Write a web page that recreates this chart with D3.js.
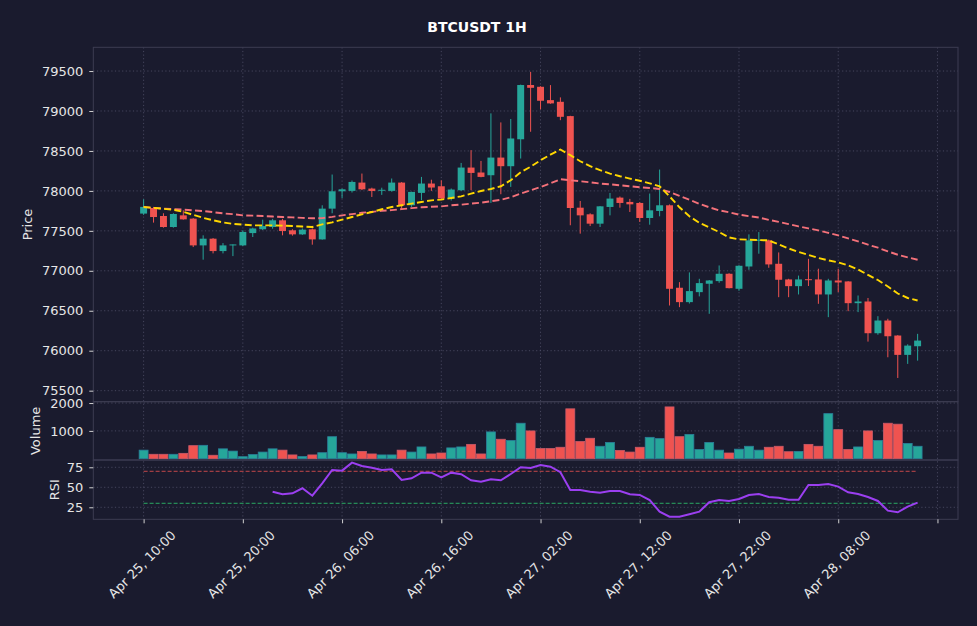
<!DOCTYPE html>
<html>
<head>
<meta charset="utf-8">
<script src="https://cdn.jsdelivr.net/npm/d3@7"></script>
<style>
  body { margin: 0; background: #1a1b2e; }
  svg text { font-family: "DejaVu Sans", sans-serif; fill: #e6e6e6; }
</style>
</head>
<body>
<svg width="977" height="626"></svg>
<script>
// hourly candles, Apr 25 10:00 -> Apr 28 16:00
const tickIdx = [0, 10, 20, 30, 40, 50, 60, 70, 80];
const tickLabels = ['Apr 25, 10:00', 'Apr 25, 20:00', 'Apr 26, 06:00', 'Apr 26, 16:00',
    'Apr 27, 02:00', 'Apr 27, 12:00', 'Apr 27, 22:00', 'Apr 28, 08:00', ''];

const open = [77716, 77786, 77686, 77548, 77694, 77653, 77318, 77402, 77247, 77318,
    77318, 77472, 77520, 77548, 77632, 77507, 77456, 77519, 77393, 77778,
    77995, 78000, 78104, 78029, 78008, 78000, 78104, 77820, 77975, 78092,
    78058, 77904, 78008, 78292, 78230, 78196, 78417, 78309, 78646, 79325,
    79303, 79136, 79115, 78936, 77790, 77707, 77590, 77799, 77916, 77862,
    77849, 77661, 77749, 77820, 76788, 76608, 76733, 76838, 76871, 76963,
    76775, 77054, 77375, 77381, 77088, 76892, 76808, 76895, 76892, 76704,
    76879, 76867, 76595, 76616, 76219, 76378, 76190, 75948, 76056];
const high = [77895, 77800, 77720, 77720, 77757, 77660, 77444, 77410, 77347, 77330,
    77507, 77540, 77640, 77650, 77650, 77520, 77530, 77530, 77820, 78205,
    78030, 78130, 78217, 78040, 78040, 78155, 78110, 77990, 78175, 78140,
    78133, 78030, 78350, 78510, 78375, 78970, 78857, 78900, 79330, 79490,
    79310, 79324, 79170, 78940, 77874, 77720, 77810, 77974, 77930, 77900,
    77860, 77967, 78267, 77830, 76858, 76980, 76900, 76885, 77067, 76970,
    77070, 77456, 77485, 77390, 77230, 76900, 76940, 77150, 77026, 76900,
    77026, 76870, 76691, 76660, 76432, 76400, 76195, 76080, 76211];
const low = [77700, 77603, 77540, 77540, 77640, 77297, 77139, 77218, 77218, 77184,
    77310, 77423, 77510, 77527, 77444, 77440, 77450, 77327, 77390, 77720,
    77908, 77980, 78010, 77924, 77950, 77990, 77766, 77800, 77883, 78000,
    77900, 77880, 78000, 78008, 78170, 77849, 77958, 78050, 78405, 78740,
    79020, 79090, 78885, 77570, 77465, 77560, 77548, 77694, 77790, 77736,
    77611, 77577, 77682, 76566, 76545, 76590, 76680, 76462, 76850, 76780,
    76750, 77013, 77214, 77038, 76670, 76670, 76704, 76810, 76587, 76420,
    76733, 76495, 76483, 76114, 76200, 75918, 75659, 75835, 75876];
const close = [77800, 77673, 77548, 77711, 77644, 77318, 77402, 77247, 77318, 77330,
    77486, 77530, 77560, 77632, 77498, 77456, 77515, 77393, 77778, 77995,
    78020, 78112, 78020, 77999, 78014, 78104, 77820, 77987, 78092, 78042,
    77904, 78017, 78292, 78225, 78175, 78417, 78309, 78656, 79325, 79290,
    79128, 79095, 78927, 77786, 77694, 77590, 77807, 77904, 77849, 77832,
    77661, 77757, 77820, 76775, 76608, 76746, 76846, 76879, 76963, 76783,
    77063, 77381, 77390, 77080, 76888, 76808, 76892, 76890, 76704, 76879,
    76854, 76595, 76616, 76219, 76378, 76181, 75948, 76064, 76127];
const volume = [309, 160, 160, 160, 194, 470, 482, 125, 356, 275,
    74, 149, 240, 356, 309, 137, 79, 137, 217, 792,
    217, 172, 264, 172, 137, 137, 309, 240, 424, 172,
    206, 390, 424, 516, 172, 964, 700, 655, 1275, 999,
    366, 366, 412, 1792, 620, 735, 448, 585, 298, 240,
    412, 769, 723, 1861, 792, 873, 332, 585, 309, 206,
    344, 448, 309, 412, 448, 252, 264, 516, 448, 1620,
    1045, 332, 424, 999, 655, 1275, 1241, 551, 448];
const maFast = [77798, 77788, 77776, 77763, 77738, 77700, 77663, 77632, 77606, 77588,
    77578, 77569, 77569, 77569, 77565, 77560, 77554, 77548, 77581, 77606,
    77640, 77673, 77707, 77736, 77770, 77798, 77820, 77841, 77861, 77882,
    77891, 77911, 77932, 77966, 77999, 78024, 78058, 78133, 78233, 78302,
    78384, 78453, 78518, 78447, 78371, 78309, 78259, 78217, 78183, 78154,
    78127, 78095, 78058, 77932, 77795, 77682, 77600, 77544, 77485, 77418,
    77393, 77389, 77384, 77381, 77331, 77280, 77236, 77199, 77161, 77130,
    77105, 77067, 77017, 76948, 76885, 76804, 76716, 76660, 76628];
const maSlow = [77798, 77788, 77778, 77772, 77766, 77757, 77748, 77734, 77719, 77709,
    77694, 77690, 77685, 77679, 77673, 77669, 77663, 77657, 77659, 77675,
    77694, 77710, 77726, 77738, 77751, 77759, 77772, 77784, 77795, 77801,
    77807, 77820, 77828, 77841, 77853, 77870, 77889, 77920, 77966, 78008,
    78049, 78095, 78146, 78133, 78121, 78108, 78092, 78083, 78070, 78058,
    78045, 78037, 78024, 77986, 77939, 77889, 77838, 77795, 77757, 77732,
    77703, 77684, 77667, 77638, 77613, 77585, 77556, 77531, 77506, 77475,
    77443, 77406, 77368, 77327, 77289, 77243, 77201, 77168, 77139];
const rsi = [null, null, null, null, null, null, null, null, null, null,
    null, null, null, 44.5, 41.3, 42.5, 48.8, 39.5, 55.0, 71.6,
    70.8, 80.8, 76.6, 74.5, 71.6, 72.5, 59.1, 61.3, 68.3, 68.3,
    62.5, 68.3, 66.3, 58.8, 57.0, 60.0, 58.8, 66.6, 75.0, 74.1,
    77.9, 75.8, 68.8, 46.6, 46.6, 44.5, 43.3, 45.4, 45.4, 41.3,
    40.4, 34.1, 19.5, 13.3, 13.3, 16.3, 19.5, 31.3, 34.1, 32.9,
    35.4, 40.4, 41.6, 37.9, 37.0, 34.5, 34.5, 52.9, 52.9, 54.1,
    50.8, 43.8, 41.6, 37.9, 32.9, 20.8, 18.8, 25.8, 30.8];

const priceTicks = [75500, 76000, 76500, 77000, 77500, 78000, 78500, 79000, 79500];
const volTicks = [1000, 2000];
const rsiTicks = [25, 50, 75];

const up = '#26a69a', down = '#ef5350', grid = '#50506a', spine = '#3c3c52';
const candles = d3.range(open.length).map(i => ({
    i: i, o: open[i], h: high[i], l: low[i], c: close[i], v: volume[i]
}));

const svg = d3.select('svg');
svg.append('rect').attr('width', 977).attr('height', 626).attr('fill', '#1a1b2e');

const left = 93.3, right = 958;
const pTop = 47.3, pBot = 401.7, vBot = 460, rBot = 519.3;

const x = d3.scaleLinear().domain([-5.07, 82.07]).range([left, right]);
const yP = d3.scaleLinear().domain([75362, 79797]).range([pBot, pTop]);
const yV = d3.scaleLinear().domain([-45, 2048]).range([vBot, pBot]);
const yR = d3.scaleLinear().domain([10, 84.1]).range([rBot, vBot]);

svg.append('text').attr('x', 477).attr('y', 32).attr('text-anchor', 'middle')
    .style('font-size', '14px').style('font-weight', 'bold').style('fill', '#ffffff')
    .text('BTCUSDT 1H');

// clip paths for the three panels
const defs = svg.append('defs');
[['clipP', pTop, pBot], ['clipV', pBot, vBot], ['clipR', vBot, rBot]].forEach(d => {
    defs.append('clipPath').attr('id', d[0]).append('rect')
        .attr('x', left).attr('y', d[1]).attr('width', right - left).attr('height', d[2] - d[1]);
});

// gridlines
function hGrid(scale, ticks) {
    svg.append('g').selectAll('line').data(ticks).join('line')
        .attr('x1', left).attr('x2', right)
        .attr('y1', d => scale(d)).attr('y2', d => scale(d))
        .attr('stroke', grid).attr('stroke-width', 0.8).attr('stroke-dasharray', '1.2,2.4');
}
hGrid(yP, priceTicks);
hGrid(yV, volTicks);
hGrid(yR, rsiTicks);
svg.append('g').selectAll('line').data(tickIdx).join('line')
    .attr('x1', d => x(d)).attr('x2', d => x(d)).attr('y1', pTop).attr('y2', rBot)
    .attr('stroke', grid).attr('stroke-width', 0.8).attr('stroke-dasharray', '1.2,2.4');

// candles
const step = x(1) - x(0);
const gP = svg.append('g').attr('clip-path', 'url(#clipP)');
gP.selectAll('line.wick').data(candles).join('line').attr('class', 'wick')
    .attr('x1', d => x(d.i)).attr('x2', d => x(d.i))
    .attr('y1', d => yP(d.h)).attr('y2', d => yP(d.l))
    .attr('stroke', d => d.c >= d.o ? up : down).attr('stroke-width', 1);
gP.selectAll('rect').data(candles).join('rect')
    .attr('x', d => x(d.i) - step * 0.35).attr('width', step * 0.7)
    .attr('y', d => yP(Math.max(d.o, d.c)))
    .attr('height', d => Math.max(1, Math.abs(yP(d.o) - yP(d.c))))
    .attr('fill', d => d.c >= d.o ? up : down);

// moving averages
const maLine = d3.line().x((d, i) => x(i)).y(d => yP(d));
gP.append('path').datum(maSlow).attr('d', maLine).attr('fill', 'none')
    .attr('stroke', '#f4717a').attr('stroke-width', 1.9).attr('stroke-dasharray', '7,3.3');
gP.append('path').datum(maFast).attr('d', maLine).attr('fill', 'none')
    .attr('stroke', '#ffd700').attr('stroke-width', 1.9).attr('stroke-dasharray', '7,3.3');

// volume
const gV = svg.append('g').attr('clip-path', 'url(#clipV)');
gV.selectAll('rect').data(candles).join('rect')
    .attr('x', d => x(d.i) - step * 0.45).attr('width', step * 0.9)
    .attr('y', d => yV(d.v)).attr('height', d => yV(0) - yV(d.v))
    .attr('fill', d => d.c >= d.o ? up : down)
    .attr('stroke', d => d.c >= d.o ? '#2a7f9a' : '#c85a6a').attr('stroke-width', 0.8);

// rsi
const gR = svg.append('g').attr('clip-path', 'url(#clipR)');
gR.append('line').attr('x1', x(0)).attr('x2', x(78)).attr('y1', yR(70)).attr('y2', yR(70))
    .attr('stroke', down).attr('stroke-opacity', 0.8).attr('stroke-width', 1).attr('stroke-dasharray', '4,2');
gR.append('line').attr('x1', x(0)).attr('x2', x(78)).attr('y1', yR(30)).attr('y2', yR(30))
    .attr('stroke', '#2ecc71').attr('stroke-opacity', 0.8).attr('stroke-width', 1).attr('stroke-dasharray', '4,2');
gR.append('path').datum(rsi)
    .attr('d', d3.line().defined(d => d !== null).x((d, i) => x(i)).y(d => yR(d)))
    .attr('fill', 'none').attr('stroke', '#9b3ff0').attr('stroke-width', 2);

// panel frames
[[pTop, pBot], [pBot, vBot], [vBot, rBot]].forEach(p => {
    svg.append('rect').attr('x', left).attr('y', p[0]).attr('width', right - left)
        .attr('height', p[1] - p[0]).attr('fill', 'none').attr('stroke', spine).attr('stroke-width', 1);
});

// axes
function yAxis(scale, ticks) {
    const g = svg.append('g').attr('transform', `translate(${left},0)`)
        .call(d3.axisLeft(scale).tickValues(ticks).tickFormat(d3.format('d')).tickSize(4).tickPadding(6));
    g.select('.domain').remove();
    g.selectAll('line').attr('stroke', '#d0d0d0');
    g.selectAll('text').style('font-size', '13px').style('fill', '#e6e6e6');
}
yAxis(yP, priceTicks);
yAxis(yV, volTicks);
yAxis(yR, rsiTicks);

const gx = svg.append('g').attr('transform', `translate(0,${rBot})`)
    .call(d3.axisBottom(x).tickValues(tickIdx).tickFormat((d, i) => tickLabels[i]).tickSize(4));
gx.select('.domain').remove();
gx.selectAll('line').attr('stroke', '#d0d0d0');
gx.selectAll('text').style('font-size', '13px').style('fill', '#e6e6e6')
    .attr('text-anchor', 'middle').attr('dy', null).attr('dominant-baseline', 'central')
    .each(function () {
        const len = this.getComputedTextLength();
        const half = (len + 13) * Math.SQRT1_2 / 2;
        d3.select(this).attr('y', 0).attr('transform', `translate(-2,${9 + half}) rotate(-45)`);
    });

// axis titles
function yTitle(txt, xx, yy) {
    svg.append('text').attr('transform', `translate(${xx},${yy}) rotate(-90)`)
        .attr('text-anchor', 'middle').attr('dominant-baseline', 'central')
        .style('font-size', '13px').text(txt);
}
yTitle('Price', 27, (pTop + pBot) / 2);
yTitle('Volume', 35, (pBot + vBot) / 2);
yTitle('RSI', 54, (vBot + rBot) / 2);
</script>
</body>
</html>
